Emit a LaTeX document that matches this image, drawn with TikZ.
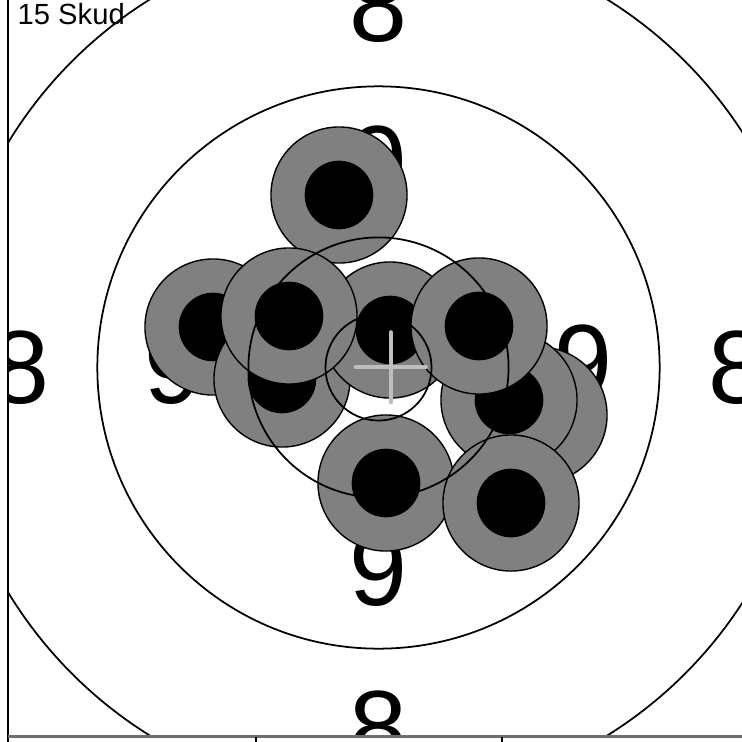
\documentclass[tikz,border=0pt]{standalone}
\usepackage{fontspec}
\setmainfont{Liberation Sans}
\usepackage{xcolor}

\definecolor{shotgray}{RGB}{128,128,128}
\definecolor{crossgray}{RGB}{190,190,190}
\definecolor{axisgray}{RGB}{110,110,110}

\tikzset{
  ring/.style={line width=0.5pt},
  ringnum/.style={inner sep=0pt, font=\fontsize{29.6pt}{32pt}\selectfont},
  shotdisc/.style={fill=shotgray, draw=black, line width=0.4pt},
  cross/.style={crossgray, line width=1.2pt, line cap=round}
}

\begin{document}
\begin{tikzpicture}[x=0.01cm, y=-0.01cm]
\useasboundingbox (0,0) rectangle (742,742);
\coordinate (O) at (378.5,367.5);

\begin{scope}
\clip (8,0) rectangle (742,736.5);
% Ring numbers
\foreach \name/\x/\y/\t in {eightN/378.5/6/8, eightS/378.5/728/8, eightW/20.5/367.5/8, eightE/737/367.5/8,
  nineN/378.5/163/9, nineS/378.5/570/9, nineW/173.5/367.5/9, nineE/583.5/362/9}
  \node[ringnum] (\name) at (\x,\y) {\t};

% Shots
\foreach \x/\y in {339/195, 213/327, 282/379, 390/330, 289/316, 539/415, 509/400, 479/326, 386/483, 511/503} {
  \draw[shotdisc] (\x,\y) circle[radius=0.68cm];
  \fill (\x,\y) circle[radius=0.343cm];
}

% Rings
\foreach \r in {0.53,1.30,2.81,4.33}
  \draw[ring] (O) circle[radius=\r cm];

% Centre of group
\coordinate (mpi) at (390.7,367.3);
\draw[cross] ([xshift=-0.35cm]mpi) -- ([xshift=0.35cm]mpi);
\draw[cross] ([yshift=-0.35cm]mpi) -- ([yshift=0.35cm]mpi);
\end{scope}

% Axes
\draw[line width=0.8pt] (8,0) -- (8,742);
\draw[axisgray, line width=0.9pt] (8,736.5) -- (742,736.5);
\foreach \x in {256,502}
  \draw[line width=0.5pt] (\x,736.5) -- (\x,742);

\node[anchor=base west, inner sep=0pt, font=\fontsize{8.3pt}{9pt}\selectfont] (count) at (17,24) {15 Skud};
\end{tikzpicture}
\end{document}
